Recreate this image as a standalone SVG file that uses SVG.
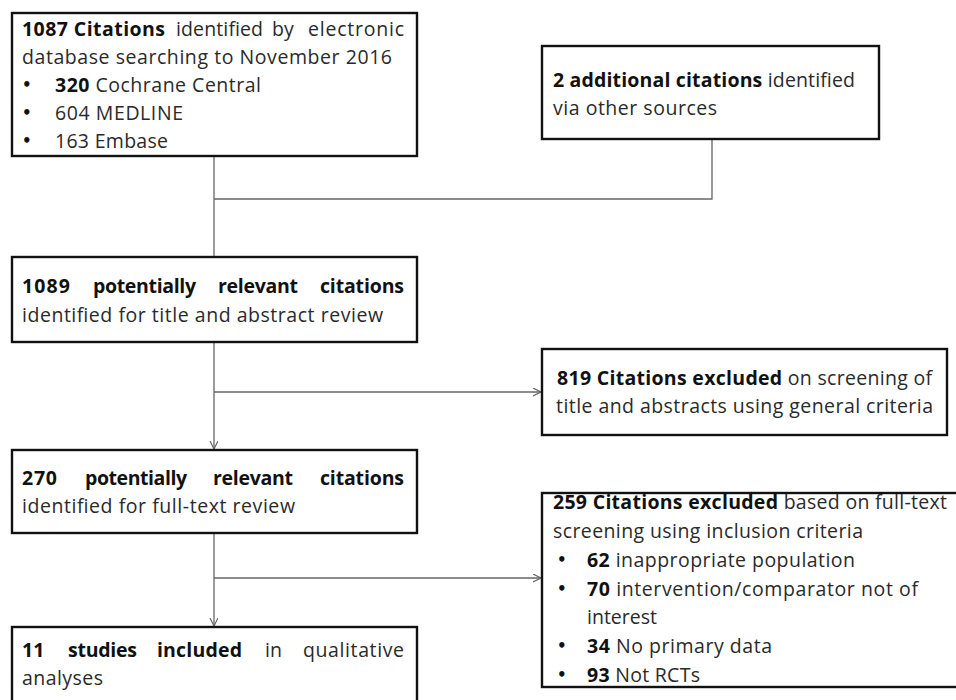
<svg xmlns="http://www.w3.org/2000/svg" width="956" height="700" viewBox="0 0 956 700">
<defs>
<style>
.box{fill:#fff;stroke:#111;stroke-width:2.4}
.t{font-family:"Open Sans","DejaVu Sans",sans-serif;font-size:19.5px;fill:#2a2a2a}
.b{font-weight:bold;fill:#111}
.u{font-family:"DejaVu Sans",sans-serif;font-size:15px;font-weight:bold;fill:#111}
.c{fill:none;stroke:#666;stroke-width:1.3}
</style>
<marker id="arr" markerUnits="userSpaceOnUse" markerWidth="12" markerHeight="12" refX="8" refY="4" orient="auto">
<path d="M0,0 L8,4 L0,8" fill="none" stroke="#666" stroke-width="1.2"/>
</marker>
</defs>
<rect width="956" height="700" fill="#fff"/>

<g id="connectors">
<path class="c" d="M214,156 V257"/>
<path class="c" d="M712,139 V199 H214"/>
<path class="c" d="M214,342 V449" marker-end="url(#arr)"/>
<path class="c" d="M214,392 H541" marker-end="url(#arr)"/>
<path class="c" d="M214,533 V626" marker-end="url(#arr)"/>
<path class="c" d="M214,578 H541" marker-end="url(#arr)"/>
</g>

<g id="n1">
<rect class="box" x="12" y="13" width="405" height="143"/>
<text class="t b" x="22" y="36" textLength="143" lengthAdjust="spacing">1087 Citations</text>
<text class="t" x="176" y="36" textLength="87" lengthAdjust="spacing">identified</text>
<text class="t" x="272" y="36">by</text>
<text class="t" x="308" y="36" textLength="96" lengthAdjust="spacing">electronic</text>
<text class="t" x="22" y="64" textLength="370" lengthAdjust="spacing">database searching to November 2016</text>
<text class="u" x="22" y="90">•</text>
<text class="t" x="55" y="92" textLength="206" lengthAdjust="spacing"><tspan class="b">320</tspan> Cochrane Central</text>
<text class="u" x="22" y="118">•</text>
<text class="t" x="55" y="120" textLength="128" lengthAdjust="spacing">604 MEDLINE</text>
<text class="u" x="22" y="146">•</text>
<text class="t" x="55" y="148" textLength="113" lengthAdjust="spacing">163 Embase</text>
</g>

<g id="n2">
<rect class="box" x="542" y="46" width="337" height="93"/>
<text class="t" x="553" y="87" textLength="302" lengthAdjust="spacing"><tspan class="b">2 additional citations</tspan> identified</text>
<text class="t" x="553" y="115" textLength="164" lengthAdjust="spacing">via other sources</text>
</g>

<g id="n3">
<rect class="box" x="12" y="257" width="405" height="85"/>
<text class="t b" x="22" y="293" textLength="48" lengthAdjust="spacing">1089</text>
<text class="t b" x="93" y="293" textLength="103" lengthAdjust="spacing">potentially</text>
<text class="t b" x="218" y="293" textLength="80" lengthAdjust="spacing">relevant</text>
<text class="t b" x="320" y="293" textLength="84" lengthAdjust="spacing">citations</text>
<text class="t" x="22" y="322" textLength="361" lengthAdjust="spacing">identified for title and abstract review</text>
</g>

<g id="n4">
<rect class="box" x="542" y="349" width="405" height="86"/>
<text class="t" x="557" y="385" textLength="375" lengthAdjust="spacing"><tspan class="b">819 Citations excluded</tspan> on screening of</text>
<text class="t" x="556" y="413" textLength="377" lengthAdjust="spacing">title and abstracts using general criteria</text>
</g>

<g id="n5">
<rect class="box" x="12" y="450" width="405" height="83"/>
<text class="t b" x="22" y="485" textLength="35" lengthAdjust="spacing">270</text>
<text class="t b" x="85" y="485" textLength="102" lengthAdjust="spacing">potentially</text>
<text class="t b" x="213" y="485" textLength="80" lengthAdjust="spacing">relevant</text>
<text class="t b" x="320" y="485" textLength="84" lengthAdjust="spacing">citations</text>
<text class="t" x="22" y="513" textLength="273" lengthAdjust="spacing">identified for full-text review</text>
</g>

<g id="n6">
<rect class="box" x="542" y="493" width="430" height="194"/>
<text class="t" x="553" y="509" textLength="394" lengthAdjust="spacing"><tspan class="b">259 Citations excluded</tspan> based on full-text</text>
<text class="t" x="553" y="538" textLength="310" lengthAdjust="spacing">screening using inclusion criteria</text>
<text class="u" x="557" y="565">•</text>
<text class="t" x="587" y="567" textLength="268" lengthAdjust="spacing"><tspan class="b">62</tspan> inappropriate population</text>
<text class="u" x="557" y="594">•</text>
<text class="t" x="587" y="596" textLength="331" lengthAdjust="spacing"><tspan class="b">70</tspan> intervention/comparator not of</text>
<text class="t" x="587" y="624" textLength="70" lengthAdjust="spacing">interest</text>
<text class="u" x="557" y="651">•</text>
<text class="t" x="587" y="653" textLength="185" lengthAdjust="spacing"><tspan class="b">34</tspan> No primary data</text>
<text class="u" x="557" y="680">•</text>
<text class="t" x="587" y="682" textLength="113" lengthAdjust="spacing"><tspan class="b">93</tspan> Not RCTs</text>
</g>

<g id="n7">
<rect class="box" x="12" y="627" width="405" height="100"/>
<text class="t b" x="22" y="657">11</text>
<text class="t b" x="68" y="657" textLength="69" lengthAdjust="spacing">studies</text>
<text class="t b" x="157" y="657" textLength="85" lengthAdjust="spacing">included</text>
<text class="t" x="265" y="657">in</text>
<text class="t" x="303" y="657" textLength="101" lengthAdjust="spacing">qualitative</text>
<text class="t" x="22" y="685" textLength="81" lengthAdjust="spacing">analyses</text>
</g>
</svg>
